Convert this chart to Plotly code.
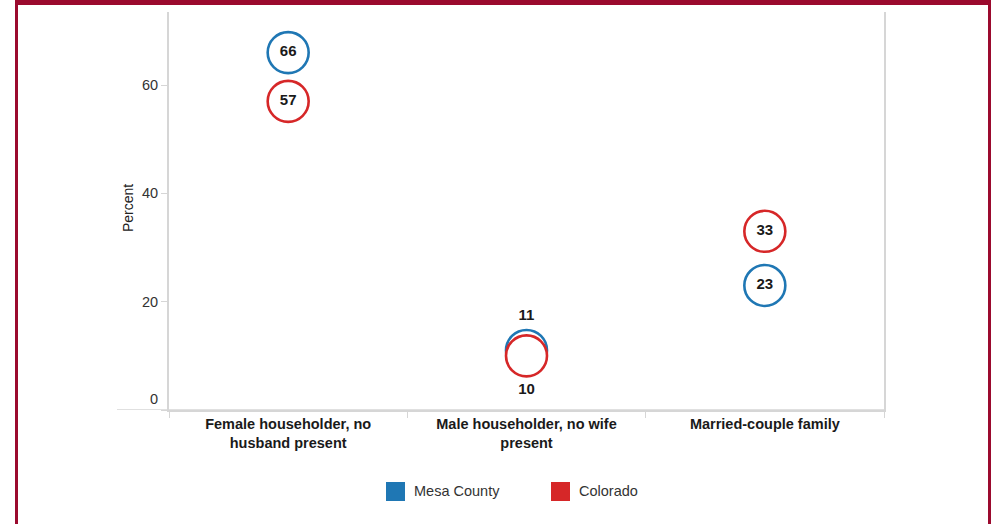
import plotly.graph_objects as go

# Household type shares (percent)
categories = ["Female householder, no<br>husband present",
              "Male householder, no wife<br>present",
              "Married-couple family"]
series_names = ["Mesa County", "Colorado"]
mesa_values = [66, 11, 23]
colorado_values = [57, 10, 33]
series_colors = ["#1f77b4", "#d62728"]
y_ticks = [0, 20, 40, 60]

FONT = "Arial, Liberation Sans, Helvetica, sans-serif"
W, H = 991, 524
L, R, T, B = 169, 107, 12, 114
PW, PH = W - L - R, H - T - B


def px_x(px):
    return (px - L) / PW


def px_y(py):
    return (H - B - py) / PH


fig = go.Figure()

label_pos = [
    ["middle center", "top center", "middle center"],
    ["middle center", "bottom center", "middle center"],
]
for name, vals, color, pos in zip(series_names, [mesa_values, colorado_values],
                                  series_colors, label_pos):
    fig.add_trace(go.Scatter(
        x=categories, y=vals, name=name, mode="markers+text",
        marker=dict(symbol="circle", size=41, color="white",
                    line=dict(color=color, width=2.6)),
        text=[str(v) for v in vals], textposition=pos,
        textfont=dict(family=FONT, size=15, color="#1a1a1a", weight="bold"),
        showlegend=False, cliponaxis=False, hoverinfo="skip",
    ))

shapes = []
# extended baseline at zero
shapes.append(dict(type="line", xref="paper", yref="y", x0=px_x(117), x1=1,
                   y0=0, y1=0, line=dict(color="#d6d6d6", width=1.5)))
# page frame
frame = "#9b0a2e"
for x0, x1, y0, y1 in [(15, 991, 0, 5), (15, 18, 0, 524), (988, 991, 0, 524)]:
    shapes.append(dict(type="rect", xref="paper", yref="paper",
                       x0=px_x(x0), x1=px_x(x1), y0=px_y(y1), y1=px_y(y0),
                       fillcolor=frame, line=dict(width=0), layer="above"))

annotations = []
# y tick labels; the zero label sits just above the baseline
for v in y_ticks:
    annotations.append(dict(xref="paper", yref="y", x=px_x(160), y=v,
                            text=str(v), showarrow=False, xanchor="right",
                            yanchor="middle", yshift=11 if v == 0 else 0,
                            font=dict(family=FONT, size=14.5, color="#333333")))
# axis title
annotations.append(dict(xref="paper", yref="paper", x=px_x(128), y=px_y(208),
                        text="Percent", textangle=-90, showarrow=False,
                        xanchor="center", yanchor="middle",
                        font=dict(family=FONT, size=14, color="#222222")))
# legend drawn as swatches and labels
legend_items = [(386, 412), (551, 577)]
for (sx, tx), name, color in zip(legend_items, series_names, series_colors):
    shapes.append(dict(type="rect", xref="paper", yref="paper",
                       x0=px_x(sx), x1=px_x(sx + 19), y0=px_y(501), y1=px_y(482),
                       fillcolor=color, line=dict(width=0)))
    annotations.append(dict(xref="paper", yref="paper", x=px_x(tx), y=px_y(491.5),
                            text=name, showarrow=False, xanchor="left",
                            yanchor="middle",
                            font=dict(family=FONT, size=14.5, color="#333333")))

fig.update_layout(
    width=W, height=H,
    margin=dict(l=L, r=R, t=T, b=B, autoexpand=False),
    paper_bgcolor="white", plot_bgcolor="white",
    font=dict(family=FONT, size=14.5, color="#333333"),
    shapes=shapes, annotations=annotations,
    xaxis=dict(type="category", range=[-0.5, 2.5], tickson="boundaries",
               ticks="outside", ticklen=6, tickcolor="#d6d6d6",
               showgrid=False, showline=True, linecolor="#d6d6d6", linewidth=1.5,
               tickfont=dict(family=FONT, size=14.5, color="#1a1a1a", weight="bold"),
               zeroline=False, fixedrange=True),
    yaxis=dict(range=[0, 73.5], tickvals=y_ticks, showticklabels=False,
               ticks="outside", ticklen=6, tickcolor="#d6d6d6",
               showgrid=False, zeroline=False,
               showline=True, mirror=True, linecolor="#d6d6d6", linewidth=1.5,
               fixedrange=True),
)

fig.write_html("out.html")
